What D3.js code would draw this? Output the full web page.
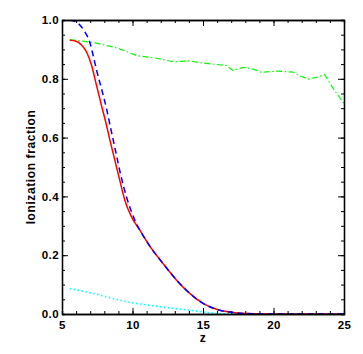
<!DOCTYPE html>
<html>
<head>
<meta charset="utf-8">
<script src="https://cdn.jsdelivr.net/npm/d3@7"></script>
<style>
body { margin: 0; background: #fff; }
svg { display: block; }
.axis text { font-family: "Liberation Sans", Arial, sans-serif; font-size: 11.5px; font-weight: bold; letter-spacing: 0.4px; fill: #000; }
.axis path, .axis line { stroke: #000; }
.label { font-family: "Liberation Sans", Arial, sans-serif; font-size: 12px; font-weight: bold; letter-spacing: 0.6px; fill: #000; }
</style>
</head>
<body>
<div class="main"></div>
<script>
var margin = {top: 20, right: 19, bottom: 40, left: 62},
width = 363 - margin.left - margin.right,
height = 354 - margin.top - margin.bottom;

// data
var redZ = [5.55, 6.0, 6.38, 6.73, 7.09, 7.44, 7.79, 8.15, 8.38, 8.74, 9.09, 9.45, 9.92, 10.51, 11.34, 12.16, 13.11, 14.06, 15.0, 15.95, 17.13, 18.5, 20, 25];
var redF = [0.931, 0.928, 0.915, 0.892, 0.847, 0.779, 0.711, 0.643, 0.595, 0.524, 0.456, 0.388, 0.331, 0.286, 0.223, 0.172, 0.116, 0.070, 0.036, 0.016, 0.005, 0.001, 0, 0];

var blueZ = [5.55, 6.13, 6.61, 6.96, 7.2, 7.48, 7.79, 8.15, 8.43, 8.81, 9.14, 9.57, 10.16, 10.87, 11.34, 12.16, 13.11, 14.06, 15.0, 15.95, 17.13, 18.5, 20, 25];
var blueF = [1.0, 0.989, 0.960, 0.926, 0.881, 0.824, 0.768, 0.700, 0.637, 0.552, 0.478, 0.399, 0.320, 0.257, 0.223, 0.172, 0.116, 0.070, 0.036, 0.016, 0.005, 0.001, 0, 0];

var greenZ = [5.55, 7.2, 8.97, 10.28, 11.7, 12.87, 14.06, 14.77, 16.66, 17.13, 17.84, 18.55, 19.14, 20.2, 21.38, 21.86, 22.45, 23.04, 23.63, 24.22, 25.0];
var greenF = [0.933, 0.924, 0.904, 0.879, 0.870, 0.858, 0.861, 0.855, 0.845, 0.828, 0.839, 0.833, 0.822, 0.826, 0.823, 0.810, 0.799, 0.805, 0.814, 0.768, 0.715];

var cyanZ = [5.55, 7.2, 9.57, 11.93, 13.82, 15.95, 17.0, 25];
var cyanF = [0.087, 0.070, 0.042, 0.025, 0.014, 0.002, 0, 0];

var xTicks = [5, 10, 15, 20, 25];
var yTicks = [0.0, 0.2, 0.4, 0.6, 0.8, 1.0];

var svg = d3.select(".main")
.append("svg")
.attr("width", width + margin.left + margin.right)
.attr("height", height + margin.top + margin.bottom)
.append("g")
.attr("transform", "translate(" + margin.left + "," + margin.top + ")");

var x = d3.scaleLinear().domain([5, 25]).range([0, width]);
var y = d3.scaleLinear().domain([0, 1]).range([height, 0]);

svg.append("clipPath").attr("id", "clip")
.append("rect").attr("width", width).attr("height", height);

var line = d3.line()
.x(function(d) { return x(d[0]); })
.y(function(d) { return y(d[1]); })
.curve(d3.curveMonotoneX);

var plot = svg.append("g").attr("clip-path", "url(#clip)");

plot.append("path")
.attr("d", line(d3.zip(cyanZ, cyanF)))
.style("fill", "none").style("stroke", "#00ffff")
.style("stroke-width", 1.6).style("stroke-dasharray", "1.5,2.5");

plot.append("path")
.attr("d", line.curve(d3.curveLinear)(d3.zip(greenZ, greenF)))
.style("fill", "none").style("stroke", "#00ff00")
.style("stroke-width", 1.2).style("stroke-dasharray", "6,2.5,1.5,2.5");

line.curve(d3.curveMonotoneX);

plot.append("path")
.attr("d", line(d3.zip(redZ, redF)))
.style("fill", "none").style("stroke", "#ff0000")
.style("stroke-width", 1.5);

plot.append("path")
.attr("d", line(d3.zip(blueZ, blueF)))
.style("fill", "none").style("stroke", "#0000ff")
.style("stroke-width", 1.5).style("stroke-dasharray", "6,4");

// minor ticks
svg.append("g").attr("class", "axis").attr("transform", "translate(0," + height + ")")
.call(d3.axisBottom(x).ticks(20).tickSize(-3).tickFormat(""));
svg.append("g").attr("class", "axis")
.call(d3.axisTop(x).ticks(20).tickSize(-3).tickFormat(""));
svg.append("g").attr("class", "axis")
.call(d3.axisLeft(y).ticks(20).tickSize(-3).tickFormat(""));
svg.append("g").attr("class", "axis").attr("transform", "translate(" + width + ",0)")
.call(d3.axisRight(y).ticks(20).tickSize(-3).tickFormat(""));

// major ticks
svg.append("g").attr("class", "axis").attr("transform", "translate(0," + height + ")")
.call(d3.axisBottom(x).tickValues(xTicks).tickSizeInner(-6).tickSizeOuter(0).tickPadding(7).tickFormat(d3.format("d")));
svg.append("g").attr("class", "axis")
.call(d3.axisTop(x).tickValues(xTicks).tickSizeInner(-6).tickSizeOuter(0).tickFormat(""));
svg.append("g").attr("class", "axis")
.call(d3.axisLeft(y).tickValues(yTicks).tickSizeInner(-6).tickSizeOuter(0).tickPadding(3).tickFormat(d3.format(".1f")));
svg.append("g").attr("class", "axis").attr("transform", "translate(" + width + ",0)")
.call(d3.axisRight(y).tickValues(yTicks).tickSizeInner(-6).tickSizeOuter(0).tickFormat(""));

svg.selectAll(".axis path.domain").style("stroke-width", 1.3);

// axis titles
svg.append("text").attr("class", "label")
.attr("x", width / 2).attr("y", height + 28)
.style("text-anchor", "middle")
.text("z");

svg.append("text").attr("class", "label")
.attr("transform", "translate(-27," + (height / 2) + ") rotate(-90)")
.style("text-anchor", "middle")
.text("Ionization fraction");
</script>
</body>
</html>
